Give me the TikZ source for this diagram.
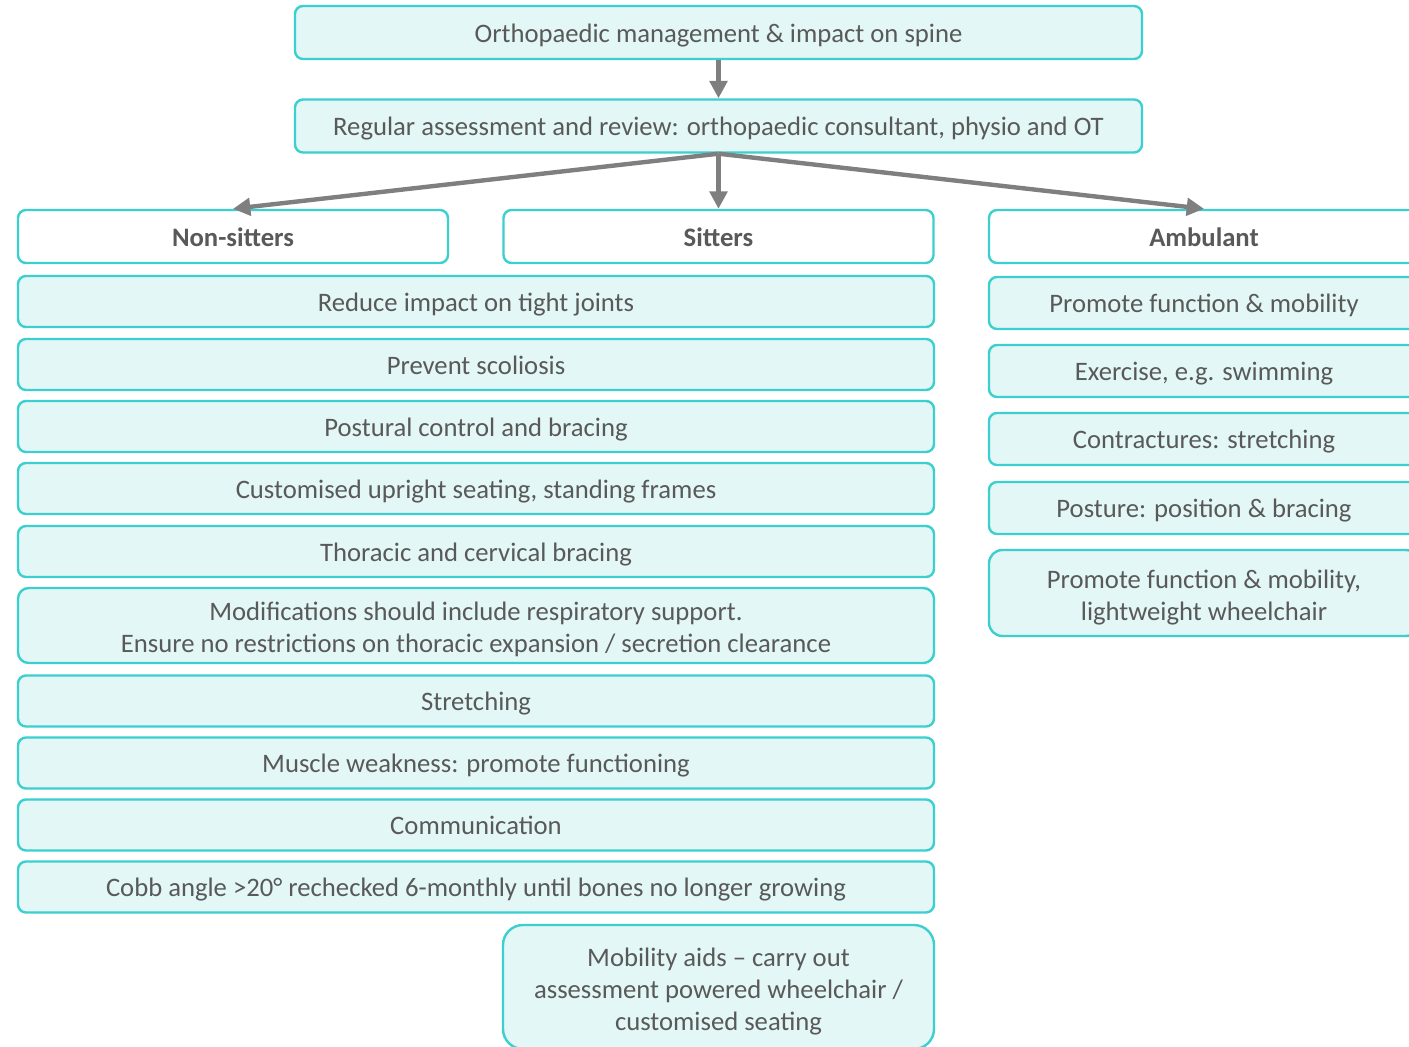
\documentclass[tikz,border=0pt]{standalone}
\usepackage{fontspec}
\setmainfont{Carlito}
\usepackage{xcolor}
\usetikzlibrary{arrows.meta,positioning}
\definecolor{edgecyan}{HTML}{3CCFCF}
\definecolor{boxfill}{HTML}{E2F7F6}
\definecolor{textgrey}{HTML}{595959}
\definecolor{arrowgrey}{HTML}{7F7F7F}

\begin{document}
\begin{tikzpicture}[
    x=0.75pt, y=-0.75pt,
    box/.style={rectangle, rounded corners=6pt, draw=edgecyan, line width=1.8pt, fill=boxfill, inner sep=0pt, align=center,
        font=\fontsize{20}{24}\selectfont, text=textgrey,
        execute at begin node={\rule{0pt}{19.5pt}}, execute at end node={\rule[-5pt]{0pt}{0pt}}},
    headbox/.style={box, fill=white, font=\fontsize{20}{24}\selectfont\bfseries, minimum width=322.5pt, minimum height=39.75pt},
    widebox/.style={box, minimum width=687pt, minimum height=38.25pt},
    sidebox/.style={box, minimum width=322.5pt, minimum height=39pt},
    multiline/.style={execute at begin node={\rule{0pt}{#1}}},
    arrow/.style={-{Triangle[length=13pt,width=13pt]}, line width=3.3pt, arrowgrey}
]
    \clip (0,0) rectangle (1409,1046);
    \useasboundingbox (0,0) rectangle (1409,1046);

    % Top of the tree
    \node[box, minimum width=635.25pt, minimum height=39.75pt] (spine) at (718.5,32.5) {Orthopaedic management \& impact on spine};
    \node[box, minimum width=635.25pt, minimum height=39.75pt] (review) at (718.5,126) {Regular assessment and review: orthopaedic consultant, physio and OT};

    % Three groups
    \node[headbox] (nonsit) at (233,236.5) {Non-sitters};
    \node[headbox] (sit) at (718.5,236.5) {Sitters};
    \node[headbox] (amb) at (1204,236.5) {Ambulant};

    \draw[arrow] (spine) -- (review);
    \draw[arrow] (review.south) -- (nonsit.north);
    \draw[arrow] (review.south) -- (sit.north);
    \draw[arrow] (review.south) -- (amb.north);

    % Non-sitters and sitters
    \node[widebox] (joints) at (476,301.5) {Reduce impact on tight joints};
    \node[widebox] (scol) at (476,364.5) {Prevent scoliosis};
    \node[widebox] (postural) at (476,426.5) {Postural control and bracing};
    \node[widebox] (seating) at (476,488.5) {Customised upright seating, standing frames};
    \node[widebox] (thoracic) at (476,551.5) {Thoracic and cervical bracing};
    \node[widebox, multiline=45.5pt, minimum height=56.25pt, rounded corners=8pt] (resp) at (476,625.5) {Modifications should include respiratory support.\\Ensure no restrictions on thoracic expansion / secretion clearance};
    \node[widebox] (stretch) at (476,701) {Stretching};
    \node[widebox] (weak) at (476,763) {Muscle weakness: promote functioning};
    \node[widebox] (comm) at (476,825) {Communication};
    \node[widebox] (cobb) at (476,887) {Cobb angle >20° rechecked 6-monthly until bones no longer growing};
    \node[box, multiline=69.5pt, minimum width=323.25pt, minimum height=93pt, rounded corners=15pt] (aids) at (718.5,987) {Mobility aids -- carry out\\assessment powered wheelchair /\\customised seating};

    % Ambulant
    \node[sidebox] (promote) at (1204,303) {Promote function \& mobility};
    \node[sidebox] (swim) at (1204,371) {Exercise, e.g. swimming};
    \node[sidebox] (contract) at (1204,439) {Contractures: stretching};
    \node[sidebox] (posture) at (1204,508) {Posture: position \& bracing};
    \node[sidebox, multiline=45.5pt, minimum height=64.5pt, rounded corners=10pt] (light) at (1204,593) {Promote function \& mobility,\\lightweight wheelchair};

\end{tikzpicture}
\end{document}
